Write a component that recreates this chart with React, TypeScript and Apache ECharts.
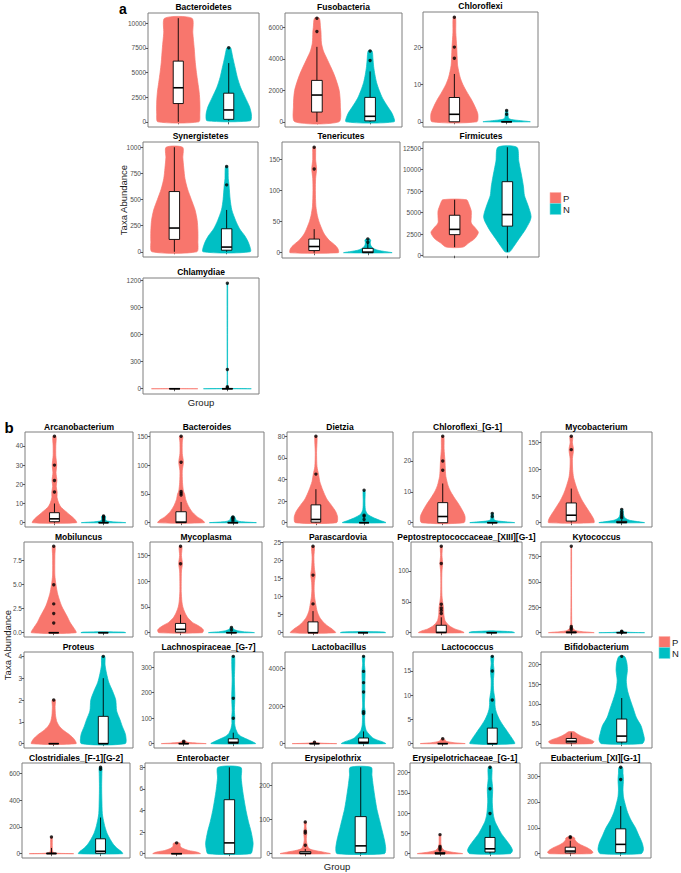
import React, { useEffect, useRef } from "react";
import * as echarts from "echarts";

const COL_P = "#F8766D";
const COL_N = "#00BFC4";
const FONT = "'Liberation Sans', Arial, Helvetica, sans-serif";

// ---------------- Panel a data ----------------
const A_TITLES = ["Bacteroidetes", "Fusobacteria", "Chloroflexi", "Synergistetes", "Tenericutes", "Firmicutes", "Chlamydiae"];
const A_TICKS = [
  ["0", "2500", "5000", "7500", "10000"],
  ["0", "2000", "4000", "6000"],
  ["0", "10", "20"],
  ["0", "250", "500", "750", "1000"],
  ["0", "50", "100", "150"],
  ["0", "2500", "5000", "7500", "10000", "12500"],
  ["0", "300", "600", "900", "1200"],
];
// violin profiles: [value, relative half-width]
const A_VIOLIN_P = [
  [[0, 0.9], [800, 0.95], [2000, 0.95], [3000, 0.92], [4000, 0.86], [5000, 0.8], [6000, 0.75], [7500, 0.7], [9000, 0.64], [10500, 0.6]],
  [[0, 0.92], [1000, 0.98], [2000, 0.93], [3000, 0.72], [4000, 0.42], [4500, 0.27], [5000, 0.19], [5700, 0.17], [6000, 0.15], [6580, 0.1]],
  [[0, 0.95], [2, 1.0], [4, 0.88], [6, 0.72], [8, 0.53], [10, 0.36], [12, 0.24], [15, 0.14], [17, 0.12], [20, 0.1], [24, 0.06], [28, 0.05]],
  [[0, 0.95], [100, 1.0], [200, 1.0], [300, 0.97], [400, 0.88], [500, 0.72], [600, 0.56], [700, 0.45], [800, 0.4], [900, 0.36], [1000, 0.35]],
  [[0, 1.0], [5, 1.0], [10, 0.92], [15, 0.78], [20, 0.62], [30, 0.42], [40, 0.3], [50, 0.2], [60, 0.13], [75, 0.07], [100, 0.05], [120, 0.06], [135, 0.1], [150, 0.06], [162, 0.06], [170, 0.05]],
  [[1000, 0.35], [1500, 0.6], [2000, 0.85], [2700, 1.0], [3200, 0.88], [3800, 0.7], [4500, 0.7], [5200, 0.7], [6000, 0.6], [6500, 0.5]],
  [[0, 0.97], [0.5, 0.6], [1, 0.2], [2, 0.05]],
];
const A_VIOLIN_N = [
  [[100, 0.95], [700, 1.0], [1500, 0.92], [2500, 0.72], [3500, 0.52], [4500, 0.38], [5500, 0.28], [6500, 0.18], [7200, 0.12], [7500, 0.08]],
  [[0, 1.0], [500, 0.93], [1000, 0.72], [1500, 0.52], [2000, 0.38], [2500, 0.27], [3000, 0.2], [3500, 0.15], [4000, 0.12], [4500, 0.08]],
  [[0, 1.0], [0.3, 0.6], [0.6, 0.2], [1, 0.08], [2, 0.06], [3, 0.04]],
  [[0, 1.0], [75, 0.95], [150, 0.78], [220, 0.55], [300, 0.38], [400, 0.22], [500, 0.15], [640, 0.1], [700, 0.07], [815, 0.05]],
  [[0, 1.0], [2, 0.7], [4, 0.42], [6, 0.28], [8, 0.2], [12, 0.12], [16, 0.1], [20, 0.12], [22, 0.08]],
  [[460, 0.1], [1000, 0.25], [2000, 0.5], [3000, 0.75], [4000, 0.95], [4500, 1.0], [5000, 0.97], [6000, 0.85], [7000, 0.72], [8000, 0.68], [9000, 0.62], [10000, 0.55], [11000, 0.48], [12600, 0.4]],
  [[0, 1.0], [2, 0.4], [6, 0.05], [30, 0.012], [1164, 0.012]],
];
// boxes: [lower whisker, Q1, median, Q3, upper whisker]
const A_BOX_P = [
  [0, 1850, 3450, 6150, 10500], [0, 620, 1700, 2630, 4760], [0, 0, 2, 6.5, 12.8], [0, 118, 227, 576, 1000],
  [0, 3.5, 10, 22, 38], [1000, 2450, 3060, 4700, 6500], [0, 0, 0, 0, 0],
];
const A_BOX_N = [
  [100, 250, 1200, 2900, 5950], [0, 60, 350, 1550, 3200], [0, 0, 0, 0, 0], [0, 15, 45, 220, 400],
  [0, 0, 1, 7, 16], [460, 3440, 4780, 8600, 12600], [0, 0, 0, 0, 0],
];
const A_OUT_P = [[], [5730, 6580], [17, 20, 28], [], [135, 170], [], []];
const A_OUT_N = [[7500], [3890, 4500], [2, 3], [640, 815], [17, 22], [], [10, 22, 212, 1164]];

// ---------------- Panel b data ----------------
const B_TITLES = [
  "Arcanobacterium", "Bacteroides", "Dietzia", "Chloroflexi_[G-1]", "Mycobacterium",
  "Mobiluncus", "Mycoplasma", "Parascardovia", "Peptostreptococcaceae_[XIII][G-1]", "Kytococcus",
  "Proteus", "Lachnospiraceae_[G-7]", "Lactobacillus", "Lactococcus", "Bifidobacterium",
  "Clostridiales_[F-1][G-2]", "Enterobacter", "Erysipelothrix", "Erysipelotrichaceae_[G-1]", "Eubacterium_[XI][G-1]",
];
const B_TICKS = [
  ["0", "10", "20", "30", "40"], ["0", "50", "100", "150"], ["0", "20", "40", "60", "80"], ["0", "10", "20"], ["0", "50", "100", "150"],
  ["0.0", "2.5", "5.0", "7.5"], ["0", "50", "100", "150"], ["0", "5", "10", "15", "20", "25"], ["0", "50", "100"], ["0", "250", "500", "750"],
  ["0", "1", "2", "3", "4"], ["0", "100", "200", "300"], ["0", "2000", "4000"], ["0", "5", "10", "15"], ["0", "50", "100", "150", "200"],
  ["0", "200", "400", "600"], ["0", "2", "4", "6", "8"], ["0", "100", "200"], ["0", "50", "100", "150", "200"], ["0", "100", "200", "300"],
];
const B_VIOLIN_P = [
  [[0, 1.0], [2, 0.9], [4, 0.7], [6, 0.5], [8, 0.3], [10, 0.2], [13, 0.12], [16, 0.12], [19, 0.08], [22, 0.11], [26, 0.07], [30, 0.1], [35, 0.06], [40, 0.06], [45, 0.07]],
  [[0, 1.0], [5, 0.9], [10, 0.7], [20, 0.45], [30, 0.3], [40, 0.2], [50, 0.15], [55, 0.1], [70, 0.06], [90, 0.05], [105, 0.1], [120, 0.05], [140, 0.05], [150, 0.07]],
  [[0, 0.95], [5, 1.0], [10, 0.92], [16, 0.72], [22, 0.5], [30, 0.32], [38, 0.18], [45, 0.12], [52, 0.05], [65, 0.03], [80, 0.05]],
  [[0, 0.95], [2, 1.0], [4, 0.88], [6, 0.72], [8, 0.53], [10, 0.36], [12, 0.24], [15, 0.14], [17, 0.12], [20, 0.1], [24, 0.06], [28, 0.05]],
  [[0, 1.0], [5, 1.0], [12, 0.92], [20, 0.8], [30, 0.65], [40, 0.5], [50, 0.38], [60, 0.28], [70, 0.2], [85, 0.1], [100, 0.06], [120, 0.05], [137, 0.1], [150, 0.05], [162, 0.06]],
  [[0, 1.0], [0.5, 0.9], [1, 0.75], [1.7, 0.6], [2.8, 0.35], [4, 0.18], [5, 0.1], [6, 0.05], [8, 0.05], [9, 0.06]],
  [[0, 0.95], [5, 1.0], [10, 0.9], [15, 0.72], [20, 0.52], [30, 0.3], [40, 0.18], [50, 0.1], [60, 0.06], [80, 0.03], [100, 0.03], [120, 0.04], [134, 0.08], [150, 0.04], [168, 0.06]],
  [[0, 1.0], [1, 0.85], [2, 0.62], [3, 0.45], [4, 0.32], [5, 0.24], [6, 0.18], [8, 0.12], [10, 0.07], [12, 0.05], [14, 0.06], [16, 0.1], [18, 0.06], [21, 0.04], [24, 0.06]],
  [[0, 1.0], [3, 0.85], [6, 0.6], [10, 0.4], [15, 0.25], [20, 0.16], [30, 0.11], [40, 0.1], [50, 0.06], [60, 0.03], [80, 0.02], [100, 0.03], [112, 0.06], [125, 0.03], [140, 0.04]],
  [[0, 1.0], [10, 0.5], [20, 0.2], [40, 0.08], [60, 0.04], [100, 0.02], [400, 0.012], [850, 0.012]],
  [[0, 1.0], [0.2, 0.92], [0.4, 0.72], [0.6, 0.45], [0.8, 0.25], [1.0, 0.14], [1.3, 0.08], [1.7, 0.06], [2.0, 0.07]],
  [[0, 1.0], [2, 0.6], [5, 0.2], [8, 0.1], [12, 0.05]],
  [[0, 1.0], [20, 0.4], [50, 0.1], [100, 0.04]],
  [[0, 1.0], [0.2, 0.5], [0.5, 0.15], [1, 0.06]],
  [[0, 0.9], [5, 1.0], [10, 0.85], [15, 0.6], [20, 0.4], [25, 0.25], [30, 0.12]],
  [[0, 1.0], [3, 0.3], [10, 0.08], [40, 0.04], [124, 0.03]],
  [[0, 1.0], [0.15, 0.85], [0.3, 0.5], [0.5, 0.25], [0.7, 0.15], [0.85, 0.15], [1.0, 0.12]],
  [[0, 1.0], [5, 0.7], [10, 0.35], [15, 0.15], [25, 0.08], [40, 0.04], [62, 0.06], [80, 0.03], [93, 0.04]],
  [[0, 1.0], [4, 0.5], [8, 0.2], [15, 0.08], [25, 0.04], [47, 0.03]],
  [[0, 0.9], [5, 1.0], [15, 0.9], [25, 0.7], [35, 0.45], [45, 0.28], [55, 0.2], [60, 0.2], [65, 0.1]],
];
const B_VIOLIN_N = [
  [[0, 1.0], [0.5, 0.4], [1, 0.12], [2, 0.08], [3, 0.1], [3.5, 0.06]],
  [[0, 1.0], [1, 0.6], [2, 0.3], [4, 0.15], [6, 0.12], [8, 0.1], [10, 0.08], [11, 0.05]],
  [[0, 1.0], [2, 0.75], [4, 0.5], [6, 0.3], [8, 0.15], [12, 0.06], [20, 0.04], [28, 0.05], [30, 0.03]],
  [[0, 1.0], [0.3, 0.6], [0.6, 0.2], [1, 0.08], [2, 0.06], [3, 0.04]],
  [[0, 1.0], [2, 0.7], [4, 0.4], [6, 0.25], [10, 0.12], [15, 0.08], [20, 0.07], [25, 0.05]],
  [[0, 1.0], [0.06, 0.9], [0.1, 0.0]],
  [[0, 1.0], [1, 0.8], [2, 0.5], [4, 0.25], [6, 0.12], [8, 0.08], [10, 0.05]],
  [[0, 1.0], [0.2, 0.9], [0.35, 0.0]],
  [[0, 1.0], [1.5, 0.9], [3, 0.0]],
  [[0, 1.0], [3, 0.4], [8, 0.1], [15, 0.03]],
  [[0, 0.98], [0.4, 1.0], [0.8, 0.85], [1.1, 0.75], [1.5, 0.6], [2.0, 0.56], [2.4, 0.42], [2.8, 0.25], [3.2, 0.15], [3.6, 0.08], [4.0, 0.07]],
  [[0, 1.0], [10, 0.8], [20, 0.55], [30, 0.32], [40, 0.2], [60, 0.1], [80, 0.06], [100, 0.07], [130, 0.05], [178, 0.07], [250, 0.05], [343, 0.06]],
  [[0, 1.0], [100, 0.85], [200, 0.6], [300, 0.42], [500, 0.25], [700, 0.12], [1000, 0.06], [1500, 0.05], [1650, 0.08], [2000, 0.04], [2750, 0.06], [3250, 0.06], [3850, 0.07], [4250, 0.04], [4650, 0.05]],
  [[0, 1.0], [1, 0.9], [2, 0.75], [3, 0.6], [4, 0.45], [5, 0.32], [6, 0.22], [7, 0.15], [8, 0.12], [9, 0.12], [11, 0.06], [13, 0.05], [15, 0.08], [16.5, 0.05], [18, 0.06]],
  [[0, 0.9], [10, 1.0], [25, 0.95], [45, 0.85], [65, 0.65], [90, 0.5], [115, 0.35], [135, 0.25], [160, 0.2], [185, 0.25], [205, 0.22], [220, 0.12]],
  [[0, 1.0], [15, 0.95], [40, 0.75], [70, 0.58], [106, 0.44], [150, 0.3], [200, 0.2], [250, 0.13], [300, 0.08], [400, 0.06], [500, 0.05], [600, 0.06], [645, 0.06]],
  [[0, 0.9], [0.5, 0.98], [1, 1.0], [2, 0.92], [3, 0.8], [4, 0.7], [5, 0.62], [6, 0.55], [7, 0.5], [8, 0.48]],
  [[0, 0.95], [15, 1.0], [40, 0.95], [70, 0.85], [100, 0.75], [130, 0.65], [160, 0.58], [200, 0.5], [230, 0.45], [254, 0.42]],
  [[0, 0.9], [8, 1.0], [20, 0.9], [35, 0.7], [50, 0.5], [65, 0.35], [80, 0.22], [95, 0.15], [110, 0.12], [130, 0.1], [160, 0.12], [185, 0.08], [213, 0.08]],
  [[0, 0.9], [15, 1.0], [40, 0.95], [70, 0.8], [100, 0.65], [130, 0.45], [160, 0.3], [190, 0.2], [220, 0.12], [250, 0.1], [287, 0.12], [310, 0.1], [334, 0.08]],
];
const B_BOX_P = [
  [0, 0.5, 2, 5.2, 10], [0, 0, 1, 19, 36], [0, 0.5, 3, 16.5, 31], [0, 0, 2, 6.5, 12.7], [0, 3, 14, 37, 64],
  [0, 0, 0, 0, 0], [0, 1, 6.5, 18, 35], [0, 0, 0, 3, 6], [0, 0, 0.5, 12, 25], [0, 0, 2, 8, 20],
  [0, 0, 0, 0, 0], [0, 0, 0, 0, 2], [0, 0, 0, 0, 10], [0, 0, 0, 0, 0], [0, 2, 6, 13, 28],
  [0, 0, 0.5, 5, 43], [0, 0, 0, 0, 0], [0, 0, 1, 6, 14], [0, 0, 0, 3, 8], [0, 3, 10, 25, 50],
];
const B_BOX_N = [
  [0, 0, 0, 0, 0], [0, 0, 0, 0, 1], [0, 0, 0, 0, 1], [0, 0, 0, 0, 0], [0, 0, 0.5, 2.5, 6],
  [0, 0, 0, 0, 0], [0, 0, 0, 0, 1], [0, 0, 0, 0, 0], [0, 0, 0, 0, 0], [0, 0, 0, 0, 0],
  [0, 0, 0, 1.25, 3], [0, 1, 5, 19, 43], [0, 10, 70, 300, 650], [0, 0, 0, 3.2, 6.2], [0, 4, 19, 62, 115],
  [0, 3, 18, 111, 270], [0, 0, 1, 5, 8], [0, 3, 23, 109, 254], [0, 4, 12, 40, 70], [0, 4, 36, 96, 184],
];
const B_OUT_P = [
  [16, 22, 30, 45], [48, 51, 54, 105, 150], [45, 80], [17, 20, 28], [137, 162],
  [1, 2, 3, 5, 9], [134, 168], [8, 16, 24], [31, 36, 40, 46, 112, 140], [30, 45, 60, 850],
  [2], [5, 9], [75], [1], [],
  [124], [1], [25, 61, 66, 93], [10, 14, 18, 47], [62, 66],
];
const B_OUT_N = [
  [1, 2, 3, 3.5], [3, 6, 8, 10], [3, 6, 7, 30], [2, 3], [9, 12, 16, 20, 25],
  [], [5, 10], [], [], [5, 10, 15],
  [4], [100, 178, 343], [1600, 1700, 2750, 3250, 3850, 4650], [9, 15, 18], [220],
  [630, 645], [], [], [99, 160, 213], [287, 334],
];

// ---------------- Layout (pixels) ----------------
const A_RECTS = [
  [148, 13, 259, 127], [285, 13, 402, 127], [423, 12, 538, 127],
  [143, 142, 258, 257], [282, 142, 400, 258], [423, 142, 539, 257],
  [143, 278, 259, 394],
];
const B_ROWS = [[432, 527], [542, 637], [652, 748], [763, 858]];
const B_COLS = [
  [[25, 133], [150, 264], [287, 393], [413, 522], [541, 652]],
  [[24, 133], [150, 262], [283, 393], [411, 522], [541, 652]],
  [[24, 133], [154, 263], [285, 393], [413, 522], [541, 652]],
  [[22, 130], [145, 261], [272, 394], [410, 520], [540, 651]],
];

function buildOption() {
  const grids: any[] = [];
  const xAxes: any[] = [];
  const yAxes: any[] = [];
  const series: any[] = [];
  const graphics: any[] = [];

  const txt = (text: string, x: number, y: number, size: number, extra: any = {}) => ({
    type: "text",
    x,
    y,
    rotation: extra.rotation || 0,
    silent: true,
    style: {
      text,
      fontSize: size,
      fontFamily: FONT,
      fontWeight: extra.bold ? "bold" : "normal",
      fill: extra.fill || "#000",
      align: extra.align || "center",
      verticalAlign: "middle",
      textAlign: extra.align || "center",
      textVerticalAlign: "middle",
    },
  });

  function addPanel(rect: number[], title: string, ticks: string[], vP: number[][], vN: number[][],
    bP: number[], bN: number[], oP: number[], oN: number[], titleGap: number) {
    const i = grids.length;
    const [l, t, r, b] = rect;
    grids.push({ left: l, top: t, width: r - l, height: b - t, show: true, borderColor: "#7f7f7f", borderWidth: 1, backgroundColor: "transparent" });
    const vals = [...vP.map((p) => p[0]), ...vN.map((p) => p[0]), ...bP, ...bN, ...oP, ...oN];
    const lo = Math.min(...vals);
    const hi = Math.max(...vals);
    const pad = (hi - lo) * 0.05 || 0.5;
    const tickNums = ticks.map(Number);
    xAxes.push({
      type: "value", gridIndex: i, min: 0.4, max: 2.6,
      axisLine: { show: false }, splitLine: { show: false }, axisLabel: { show: false },
      axisTick: { show: true, customValues: [1, 2], length: 2.5, lineStyle: { color: "#333", width: 0.8 } },
    });
    yAxes.push({
      type: "value", gridIndex: i, min: lo - pad, max: hi + pad,
      axisLine: { show: false }, splitLine: { show: false },
      axisTick: { show: true, customValues: tickNums, length: 2.5, lineStyle: { color: "#333", width: 0.8 } },
      axisLabel: {
        show: true, customValues: tickNums, fontSize: 6.5, color: "#4d4d4d", margin: 2, fontFamily: FONT,
        formatter: (v: number) => {
          const k = tickNums.findIndex((n) => Math.abs(n - v) < 1e-6 * Math.max(1, Math.abs(n)));
          return k >= 0 ? ticks[k] : "";
        },
      },
    });
    const violins = [vP, vN];
    const boxes = [bP, bN];
    const colors = [COL_P, COL_N];
    series.push({
      type: "custom", xAxisIndex: i, yAxisIndex: i, clip: false, silent: true, z: 2,
      data: [[1, lo], [2, lo]],
      renderItem: (params: any, api: any) => {
        const g = params.dataIndex;
        const cx = g + 1;
        const prof = violins[g];
        const color = colors[g];
        const right = prof.map(([y, w]) => api.coord([cx + w * 0.45, y]));
        const left = prof.slice().reverse().map(([y, w]) => api.coord([cx - w * 0.45, y]));
        const children: any[] = [
          { type: "polygon", shape: { points: right.concat(left), smooth: 0.25 }, style: { fill: color, stroke: color, lineWidth: 0.7 } },
        ];
        const [wl, q1, med, q3, wh] = boxes[g];
        const pc = api.coord([cx, 0])[0];
        const xl = api.coord([cx - 0.1, 0])[0];
        const xr = api.coord([cx + 0.1, 0])[0];
        const yWl = api.coord([cx, wl])[1];
        const yQ1 = api.coord([cx, q1])[1];
        const yMed = api.coord([cx, med])[1];
        const yQ3 = api.coord([cx, q3])[1];
        const yWh = api.coord([cx, wh])[1];
        children.push({ type: "line", shape: { x1: pc, y1: yWh, x2: pc, y2: yQ3 }, style: { stroke: "#000", lineWidth: 0.9 } });
        children.push({ type: "line", shape: { x1: pc, y1: yQ1, x2: pc, y2: yWl }, style: { stroke: "#000", lineWidth: 0.9 } });
        children.push({ type: "rect", shape: { x: xl, y: yQ3, width: xr - xl, height: Math.max(yQ1 - yQ3, 0.01) }, style: { fill: "#fff", stroke: "#000", lineWidth: 0.9 } });
        children.push({ type: "line", shape: { x1: xl, y1: yMed, x2: xr, y2: yMed }, style: { stroke: "#000", lineWidth: 1.6 } });
        return { type: "group", children };
      },
    });
    series.push({
      type: "scatter", xAxisIndex: i, yAxisIndex: i, silent: true, z: 3, symbol: "circle", symbolSize: 3.4,
      itemStyle: { color: "#000" },
      data: [...oP.map((v) => [1, v]), ...oN.map((v) => [2, v])],
    });
    graphics.push(txt(title, (l + r) / 2, t - titleGap, 8.5, { bold: true }));
  }

  A_RECTS.forEach((rect, k) =>
    addPanel(rect, A_TITLES[k], A_TICKS[k], A_VIOLIN_P[k], A_VIOLIN_N[k], A_BOX_P[k], A_BOX_N[k], A_OUT_P[k], A_OUT_N[k], 6.5)
  );
  B_TITLES.forEach((title, k) => {
    const row = Math.floor(k / 5);
    const col = k % 5;
    const [l, r] = B_COLS[row][col];
    const [t, b] = B_ROWS[row];
    addPanel([l, t, r, b], title, B_TICKS[k], B_VIOLIN_P[k], B_VIOLIN_N[k], B_BOX_P[k], B_BOX_N[k], B_OUT_P[k], B_OUT_N[k], 5.5);
  });

  // panel letters, axis titles, legends
  graphics.push(txt("a", 123, 8.5, 14, { bold: true }));
  graphics.push(txt("b", 9, 427.5, 15, { bold: true }));
  graphics.push(txt("Taxa Abundance", 123, 200, 9.5, { rotation: Math.PI / 2, fill: "#1a1a1a" }));
  graphics.push(txt("Taxa Abundance", 7, 645, 9.5, { rotation: Math.PI / 2, fill: "#1a1a1a" }));
  graphics.push(txt("Group", 201, 402, 9.5, { fill: "#1a1a1a" }));
  graphics.push(txt("Group", 337, 866, 9.5, { fill: "#1a1a1a" }));
  const legend = (x: number, y: number) => {
    graphics.push({ type: "rect", silent: true, shape: { x, y, width: 11, height: 11 }, style: { fill: COL_P, stroke: "#fbb3ad", lineWidth: 0.6 } });
    graphics.push({ type: "rect", silent: true, shape: { x, y: y + 11, width: 11, height: 11 }, style: { fill: COL_N, stroke: "#7fdfe1", lineWidth: 0.6 } });
    graphics.push(txt("P", x + 13, y + 5.5, 9.5, { align: "left", fill: "#1a1a1a" }));
    graphics.push(txt("N", x + 13, y + 16.5, 9.5, { align: "left", fill: "#1a1a1a" }));
  };
  legend(550, 192.5);
  legend(659, 636.5);

  return {
    animation: false,
    backgroundColor: "#ffffff",
    textStyle: { fontFamily: FONT },
    grid: grids,
    xAxis: xAxes,
    yAxis: yAxes,
    series,
    graphic: { elements: graphics },
  };
}

export default function App() {
  const ref = useRef<HTMLDivElement>(null);
  useEffect(() => {
    document.body.style.margin = "0";
    document.body.style.overflow = "hidden";
    if (!ref.current) return;
    const chart = echarts.init(ref.current, undefined, { renderer: "svg" });
    chart.setOption(buildOption() as any);
    return () => chart.dispose();
  }, []);
  return <div ref={ref} style={{ width: 681, height: 873 }} />;
}
